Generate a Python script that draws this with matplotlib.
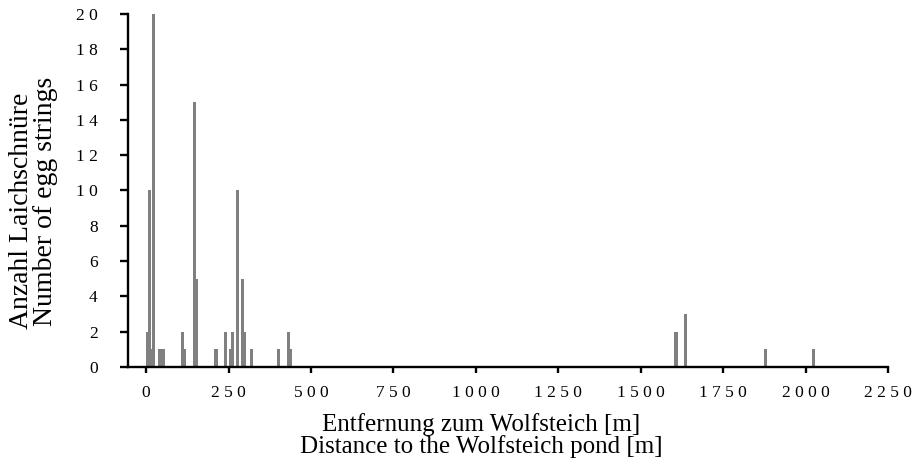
import matplotlib
matplotlib.use("Agg")
import matplotlib.pyplot as plt
from matplotlib.ticker import FuncFormatter

plt.rcParams['font.family'] = ['Liberation Serif', 'DejaVu Serif']

# Distance of each spawning site to the pond [m] and egg strings counted there
distance_m = [5, 10, 15, 23, 40, 51, 110, 115, 147, 152, 212, 240, 256, 263,
              277, 293, 299, 320, 401, 431, 437, 1607, 1637, 1878, 2025]
egg_strings = [2, 10, 1, 20, 1, 1, 2, 1, 15, 5, 1, 2, 1, 2,
               10, 5, 2, 1, 1, 2, 1, 2, 3, 1, 1]

x_ticks = list(range(0, 2251, 250))
y_ticks = list(range(0, 21, 2))

xlabel_lines = ["Entfernung zum Wolfsteich [m]", "Distance to the Wolfsteich pond [m]"]
ylabel_lines = ["Anzahl Laichschnüre", "Number of egg strings"]

W, H = 918, 469
fig = plt.figure(figsize=(W / 100, H / 100), dpi=100)
ax = fig.add_axes([128 / W, 1 - 367 / H, (888 - 128) / W, (367 - 14) / H])

ax.bar(distance_m, egg_strings, width=9.5, color='#808080', linewidth=0)

ax.set_xlim(-55, 2250)
ax.set_ylim(0, 20)
ax.set_xticks(x_ticks)
ax.set_yticks(y_ticks)

# digits are printed with a space between them
spaced = FuncFormatter(lambda v, pos: " ".join(str(int(round(v)))))
ax.xaxis.set_major_formatter(spaced)
ax.yaxis.set_major_formatter(spaced)

for side in ("top", "right"):
    ax.spines[side].set_visible(False)
for side in ("left", "bottom"):
    ax.spines[side].set_linewidth(1.7)
    ax.spines[side].set_color("black")

ax.tick_params(axis="both", direction="out", width=1.7,
               labelsize=12.5, colors="black")
ax.tick_params(axis="x", length=4.3, pad=9)
ax.tick_params(axis="y", length=5.8, pad=16)

fig.text(481 / W, 1 - 431 / H, xlabel_lines[0], ha="center", va="baseline", fontsize=18)
fig.text(481 / W, 1 - 453 / H, xlabel_lines[1], ha="center", va="baseline", fontsize=18)
fig.text(22 / W, 1 - 211 / H, ylabel_lines[0], rotation=90, ha="center", va="center", fontsize=20)
fig.text(46 / W, 1 - 201 / H, ylabel_lines[1], rotation=90, ha="center", va="center", fontsize=20)

fig.savefig("out.png", dpi=100)
